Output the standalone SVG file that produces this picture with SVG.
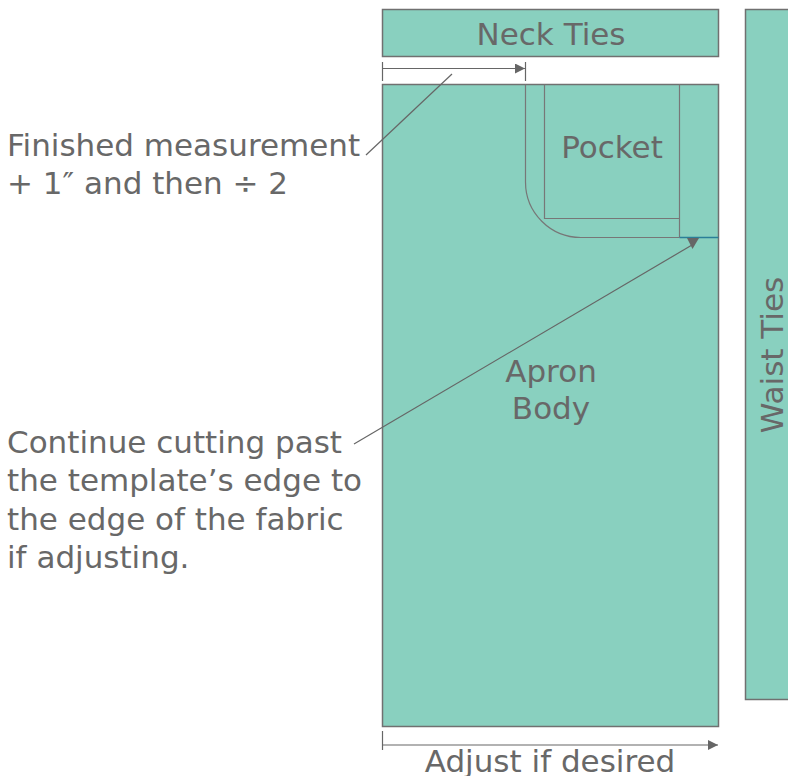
<svg xmlns="http://www.w3.org/2000/svg" width="788" height="776" viewBox="0 0 788 776">
<style>
.fab{fill:#89d0bf;stroke:#707070;stroke-width:1.5}
.ln{fill:none;stroke:#666;stroke-width:1.2}
.thin{fill:none;stroke:#777;stroke-width:1.2}
.t{font-family:"DejaVu Sans","Liberation Sans",sans-serif;font-size:31px;fill:#686868}
.m{text-anchor:middle}
</style>
<defs>
<marker id="ah" viewBox="0 0 10 10" refX="10" refY="5" markerWidth="10" markerHeight="10" markerUnits="userSpaceOnUse" orient="auto">
<path d="M0,0 L10,5 L0,10 Z" fill="#666"/>
</marker>
</defs>
<rect width="788" height="776" fill="#fff"/>
<g id="neck-ties">
<rect class="fab" x="382.5" y="9.5" width="336" height="47"/>
<text class="t m" x="551" y="45">Neck Ties</text>
</g>
<g id="waist-ties">
<rect class="fab" x="745.5" y="9.5" width="50" height="690"/>
<text class="t m" transform="translate(783,355) rotate(-90)">Waist Ties</text>
</g>
<g id="apron-body">
<rect class="fab" x="382.5" y="84.5" width="336" height="642"/>
<text class="t m" x="551" y="382">Apron</text>
<text class="t m" x="551" y="419">Body</text>
</g>
<g id="pocket">
<path class="thin" d="M525.5,84.5 V182 A55.5,55.5 0 0 0 581,237.5 H679.5"/>
<path class="thin" d="M544.5,84.5 V218.5 H679.5"/>
<path class="thin" d="M679.5,84.5 V237.5"/>
<line x1="679.5" y1="237.5" x2="718.5" y2="237.5" stroke="#2b7f98" stroke-width="1.5"/>
<text class="t m" x="612" y="158">Pocket</text>
</g>
<g id="labels">
<text class="t" x="7" y="156">Finished measurement</text>
<text class="t" x="7" y="194">+ 1″ and then ÷ 2</text>
<text class="t" x="7" y="453">Continue cutting past</text>
<text class="t" x="7" y="491">the template’s edge to</text>
<text class="t" x="7" y="530">the edge of the fabric</text>
<text class="t" x="7" y="568">if adjusting.</text>
<text class="t m" x="550" y="772">Adjust if desired</text>
</g>
<g id="connectors">
<line class="ln" x1="382.5" y1="62" x2="382.5" y2="81"/>
<line class="ln" x1="525.5" y1="62" x2="525.5" y2="81"/>
<line class="ln" x1="382.5" y1="68.5" x2="525" y2="68.5" marker-end="url(#ah)"/>
<line class="ln" x1="366" y1="155" x2="452" y2="74"/>
<line class="ln" x1="354" y1="444" x2="692" y2="245"/>
<polygon points="687,238 699,238 692.5,249" fill="#666"/>
<line class="ln" x1="382.5" y1="731" x2="382.5" y2="750"/>
<line class="ln" x1="382.5" y1="745" x2="718" y2="745" marker-end="url(#ah)"/>
</g>
</svg>
